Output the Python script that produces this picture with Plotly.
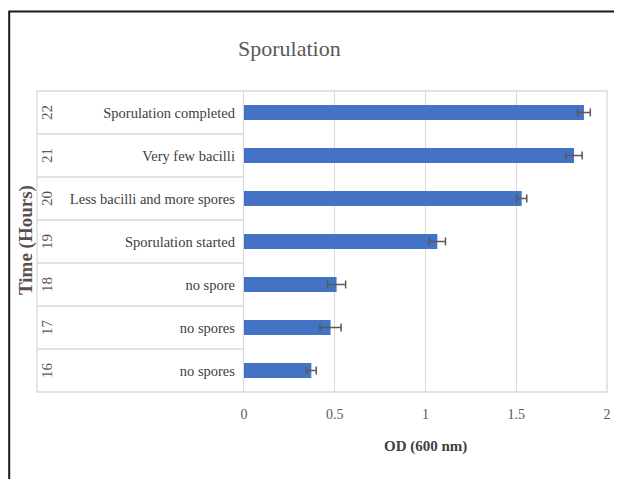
import plotly.graph_objects as go

hours = ["16", "17", "18", "19", "20", "21", "22"]
stages = ["no spores", "no spores", "no spore", "Sporulation started",
          "Less bacilli and more spores", "Very few bacilli", "Sporulation completed"]
od_values = [0.371, 0.477, 0.510, 1.065, 1.530, 1.818, 1.873]
od_errors = [0.027, 0.058, 0.050, 0.045, 0.028, 0.045, 0.035]
x_ticks = [0, 0.5, 1, 1.5, 2]
x_tick_labels = ["0", "0.5", "1", "1.5", "2"]

OFF = 8  # page body margin
W, H = 622 - OFF, 479 - OFF
# plot area in screen pixels
SL, SR, ST, SB = 244, 607, 91, 392
L, R, T, B = SL - OFF, SR - OFF, ST - OFF, SB - OFF
pw, ph = SR - SL, SB - ST

def px(xs):
    return (xs - SL) / pw

def py(ys):
    return (SB - ys) / ph

SERIF = "Liberation Serif, Times New Roman, serif"
GRID = "#d9d9d9"

fig = go.Figure()
fig.add_trace(go.Bar(
    x=od_values, y=hours, orientation="h",
    marker=dict(color="#4472C4", line=dict(width=0)),
    width=0.35,
    error_x=dict(type="data", array=od_errors, visible=True,
                 color="#595959", thickness=1.5, width=4),
    showlegend=False,
))

shapes = []
# outer chart border
shapes.append(dict(type="rect", xref="paper", yref="paper",
                   x0=px(9.2), x1=px(640), y0=py(11.5), y1=py(500),
                   line=dict(color="#1a1a1a", width=2), fillcolor="rgba(0,0,0,0)"))
# plot + category frame
shapes.append(dict(type="rect", xref="paper", yref="paper",
                   x0=px(37), x1=1, y0=0, y1=1,
                   line=dict(color=GRID, width=1.3), fillcolor="rgba(0,0,0,0)"))
# category dividers
for i in range(len(hours) - 1):
    shapes.append(dict(type="line", xref="paper", yref="y",
                       x0=px(37), x1=0, y0=i + 0.5, y1=i + 0.5,
                       line=dict(color=GRID, width=1.3)))

annotations = []
for i, h in enumerate(hours):
    annotations.append(dict(text=h, x=px(46.5), y=i, xref="paper", yref="y",
                            xanchor="center", yanchor="middle",
                            showarrow=False, textangle=-90,
                            font=dict(family=SERIF, size=15, color="#595959")))
annotations.append(dict(text="<b>Time (Hours)</b>", x=px(26), y=py(240),
                        xref="paper", yref="paper", showarrow=False, textangle=-90,
                        xanchor="center", yanchor="middle",
                        font=dict(family=SERIF, size=19, color="#5a4f4f")))
annotations.append(dict(text="Sporulation", x=px(289), y=py(49),
                        xref="paper", yref="paper", showarrow=False,
                        xanchor="center", yanchor="middle",
                        font=dict(family=SERIF, size=22, color="#595959")))
annotations.append(dict(text="<b>OD (600 nm)</b>", x=px(425), y=py(446),
                        xref="paper", yref="paper", showarrow=False,
                        xanchor="center", yanchor="middle",
                        font=dict(family=SERIF, size=15, color="#404040")))

fig.update_layout(
    width=W, height=H,
    margin=dict(l=L, r=W - R, t=T, b=H - B, pad=0),
    paper_bgcolor="white", plot_bgcolor="white",
    shapes=shapes, annotations=annotations,
    xaxis=dict(range=[0, 2], tickvals=x_ticks, ticktext=x_tick_labels,
               showgrid=True, gridcolor=GRID, gridwidth=1.3,
               zeroline=False, showline=False, ticks="",
               ticklabelstandoff=12,
               tickfont=dict(family=SERIF, size=14, color="#595959")),
    yaxis=dict(type="category", categoryorder="array", categoryarray=hours,
               tickvals=hours, ticktext=stages, range=[-0.5, 6.5],
               showgrid=False, zeroline=False, showline=True,
               linecolor=GRID, linewidth=1.3, ticks="",
               ticklabelstandoff=5,
               tickfont=dict(family=SERIF, size=14.5, color="#404040")),
)

fig.write_html("out.html")
